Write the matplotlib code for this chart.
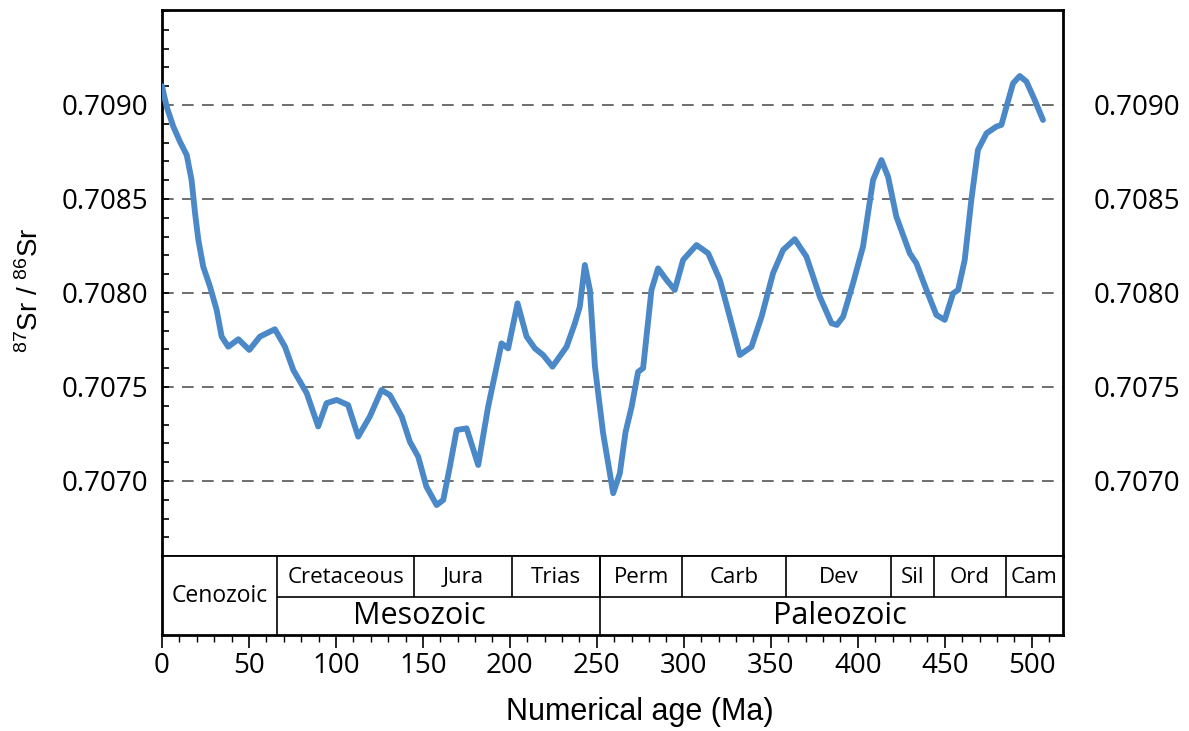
import numpy as np
import matplotlib
matplotlib.use("Agg")
import matplotlib.pyplot as plt
from matplotlib.ticker import MultipleLocator, FixedLocator


# Sr isotope curve (age in Ma, 87Sr/86Sr)
age = [0, 2.7, 6.5, 10.3, 14.2, 17, 19, 20.9, 23.7, 27.6, 31.4, 34.3, 38.1,
       43.9, 50.2, 56.3, 64.9, 70.7, 75.5, 83.2, 89.8, 94.6, 100.4, 107,
       112.8, 119.5, 126.2, 131, 137.8, 142.5, 147.3, 152, 157.9, 161.7,
       165.5, 169.4, 175.1, 181.8, 187.5, 195.2, 199, 204.4, 209.6, 214.4,
       219.1, 224.5, 232.6, 237.4, 240.2, 243.1, 246, 248.9, 253.6, 259.4,
       263.2, 266.5, 270, 273.7, 276.6, 281.4, 285.2, 290, 294.8, 299.6,
       307.3, 314, 320.7, 326.4, 332.2, 338.9, 344.7, 351.3, 357.1, 363.8,
       370.5, 378.2, 384.9, 388, 391.6, 397.3, 403, 408.8, 413.6, 417.4,
       422.2, 429.9, 433.7, 439.5, 445.2, 450, 454.8, 457.7, 461.5, 465.3,
       469.1, 474, 479.7, 482.6, 485.5, 489.3, 493.1, 497, 501.7, 506.5]
sr = [0.70910, 0.70899, 0.708885, 0.708805, 0.708734, 0.708601, 0.708424,
      0.708282, 0.70814, 0.708034, 0.70791, 0.707768, 0.707714, 0.707754,
      0.707697, 0.707768, 0.707807, 0.707714, 0.70759, 0.707467, 0.70729,
      0.707414, 0.707431, 0.707404, 0.707236, 0.707343, 0.707484, 0.707457,
      0.707343, 0.707209, 0.707129, 0.70697, 0.706872, 0.706899, 0.707076,
      0.707271, 0.70728, 0.707085, 0.707395, 0.707732, 0.707705, 0.707945,
      0.707768, 0.707705, 0.70767, 0.707608, 0.707714, 0.707839, 0.707927,
      0.708149, 0.708016, 0.707608, 0.707254, 0.706935, 0.70704, 0.70726,
      0.707395, 0.70758, 0.7076, 0.708016, 0.708131, 0.70807, 0.708016,
      0.708176, 0.708255, 0.708211, 0.70807, 0.707874, 0.70767, 0.707714,
      0.707874, 0.708105, 0.708229, 0.708286, 0.708193, 0.70798, 0.707839,
      0.70783, 0.707874, 0.708052, 0.708246, 0.708601, 0.708707, 0.708619,
      0.708406, 0.708211, 0.708158, 0.708016, 0.707883, 0.707857, 0.707998,
      0.708016, 0.708176, 0.708495, 0.708761, 0.708849, 0.708885, 0.708894,
      0.708991, 0.709115, 0.709154, 0.709124, 0.709027, 0.70892]

# geologic time scale (Ma)
periods = ["Cretaceous", "Jura", "Trias", "Perm", "Carb", "Dev", "Sil", "Ord", "Cam"]
period_bounds = [66, 145, 201, 252, 299, 359, 419, 444, 485, 518]
eras = ["Cenozoic", "Mesozoic", "Paleozoic"]
era_bounds = [0, 66, 252, 518]
era_label_x = [33, 148, 390]

grid_levels = [0.7070, 0.7075, 0.7080, 0.7085, 0.7090]

plt.rcParams["mathtext.fontset"] = "custom"
plt.rcParams["mathtext.rm"] = "Liberation Sans"
plt.rcParams["mathtext.it"] = "Liberation Sans"

tick_font = "Open Sans"
line_col = "#4a88c7"

fig = plt.figure(figsize=(11.89, 7.31), dpi=100)
W, H = 1189, 731
x0, x1 = 162 / W, 1063 / W
ax = fig.add_axes([x0, 1 - 556 / H, x1 - x0, (556 - 10) / H])
ts = fig.add_axes([x0, 1 - 635 / H, x1 - x0, (635 - 556) / H], sharex=ax)

# main curve
ax.plot(age, sr, color=line_col, lw=4.2, solid_joinstyle="round",
        solid_capstyle="round", zorder=3)
for g in grid_levels:
    ax.axhline(g, color="#555555", lw=1.2, dashes=(7, 5), zorder=1)

ax.set_xlim(0, 518)
ax.set_ylim(0.706601, 0.709505)
ax.yaxis.set_major_locator(FixedLocator(grid_levels))
ax.yaxis.set_minor_locator(MultipleLocator(0.0001))
ax.yaxis.set_major_formatter(plt.FormatStrFormatter("%.4f"))
ax.tick_params(axis="y", which="both", direction="in", left=True, right=True,
               length=5, width=1.2, labelsize=20, pad=10)
ax.tick_params(axis="x", which="both", bottom=False, labelbottom=False)
for lab in ax.get_yticklabels():
    lab.set_fontfamily(tick_font)
for s in ax.spines.values():
    s.set_linewidth(2)
ax.spines["bottom"].set_linewidth(1.3)

# right-hand labels
axr = ax.twinx()
axr.set_ylim(ax.get_ylim())
axr.yaxis.set_major_locator(FixedLocator(grid_levels))
axr.yaxis.set_major_formatter(plt.FormatStrFormatter("%.4f"))
axr.tick_params(axis="y", which="major", length=0, labelsize=20, pad=22)
for lab in axr.get_yticklabels():
    lab.set_fontfamily(tick_font)
for s in axr.spines.values():
    s.set_visible(False)

# time scale strip
ts.set_ylim(0, 1)
ts.set_yticks([])
ts.hlines(0.48, era_bounds[1], era_bounds[-1], color="black", lw=1.2)
for b in era_bounds[1:-1]:
    ts.axvline(b, color="black", lw=1.2)
for b in period_bounds[1:-1]:
    ts.vlines(b, 0.48, 1, color="black", lw=1.2)
for i, p in enumerate(periods):
    xm = (period_bounds[i] + period_bounds[i + 1]) / 2
    ts.text(xm, 0.73, p, ha="center", va="center", fontsize=16,
            fontfamily=tick_font)
ts.text(era_label_x[0], 0.50, eras[0], ha="center", va="center", fontsize=16.5,
        fontfamily=tick_font)
for name, xm in zip(eras[1:], era_label_x[1:]):
    ts.text(xm, 0.24, name, ha="center", va="center", fontsize=22,
            fontfamily=tick_font)
for s in ts.spines.values():
    s.set_linewidth(1.3)
ts.spines["left"].set_linewidth(2)
ts.spines["right"].set_linewidth(2)
ts.spines["bottom"].set_linewidth(2)

ts.xaxis.set_major_locator(MultipleLocator(50))
ts.xaxis.set_minor_locator(MultipleLocator(10))
ts.tick_params(axis="x", which="major", direction="out", length=9, width=1.2,
               labelsize=20, pad=3)
ts.tick_params(axis="x", which="minor", direction="out", length=5, width=1.0)
for lab in ts.get_xticklabels():
    lab.set_fontfamily(tick_font)

fig.text(640 / W, 1 - 712 / H, "Numerical age (Ma)", ha="center", va="center",
         fontsize=22, fontfamily="Liberation Sans")
fig.text(30 / W, 1 - 290 / H, r"$^{87}$Sr / $^{86}$Sr", rotation=90,
         ha="center", va="center", fontsize=20, fontfamily="Liberation Sans")

fig.savefig("out.png", dpi=100)
